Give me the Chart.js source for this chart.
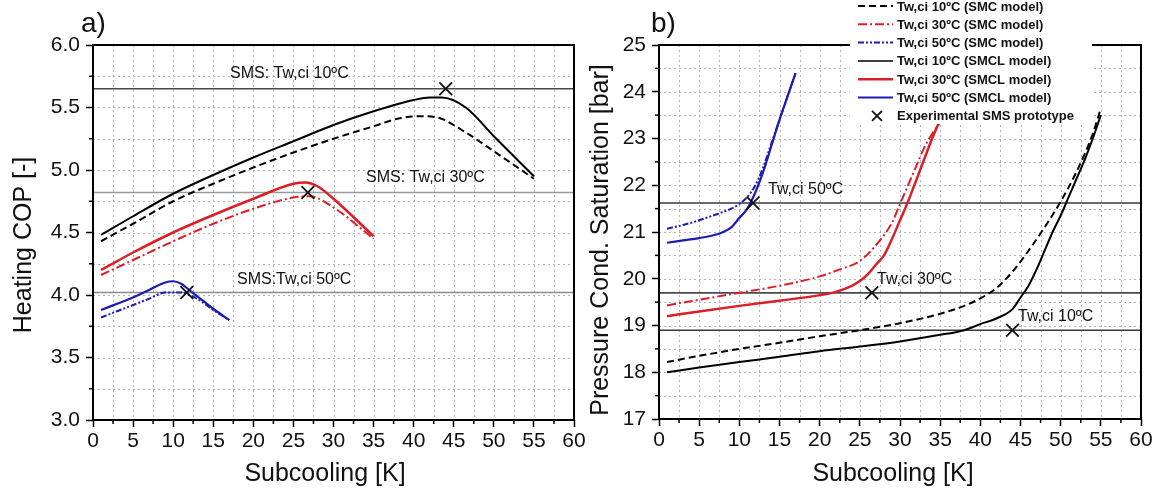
<!DOCTYPE html>
<html><head><meta charset="utf-8">
<script src="https://cdn.jsdelivr.net/npm/chart.js@4.4.0/dist/chart.umd.min.js"></script>
<style>
html,body{margin:0;padding:0;background:#fff;width:1158px;height:488px;overflow:hidden}
#c1{position:absolute;left:0;top:0;width:600px;height:488px}
#c2{position:absolute;left:560px;top:0;width:598px;height:488px}
</style></head><body>
<canvas id="c1" width="600" height="488"></canvas>
<canvas id="c2" width="598" height="488"></canvas>
<script>
// ---------- DATA ----------
const xTicks = [0,5,10,15,20,25,30,35,40,45,50,55,60];
const copTicks = [3.0,3.5,4.0,4.5,5.0,5.5,6.0];
const presTicks = [17,18,19,20,21,22,23,24,25];

// a) Heating COP
const cop10SmcX  = [1,5,10,15,20,25,30,35,38,41,43,46,50,55];
const cop10SmcY  = [4.43,4.57,4.75,4.89,5.02,5.14,5.25,5.35,5.41,5.43,5.42,5.32,5.15,4.93];
const cop30SmcX  = [1,5,10,15,20,25,27,30,35];
const cop30SmcY  = [4.16,4.28,4.43,4.57,4.69,4.78,4.79,4.70,4.45];
const cop50SmcX  = [1,3,5,7,9,11,12,13,15,17];
const cop50SmcY  = [3.82,3.87,3.92,3.97,4.02,4.02,4.00,3.97,3.88,3.80];
const cop10SmclX = [1,5,10,15,20,25,30,35,40,42,43.5,46.5,50,55];
const cop10SmclY = [4.48,4.63,4.81,4.96,5.10,5.23,5.36,5.47,5.56,5.58,5.58,5.50,5.27,4.95];
const cop30SmclX = [1,5,10,15,20,25,26.5,28,30,35];
const cop30SmclY = [4.20,4.34,4.50,4.64,4.77,4.89,4.90,4.87,4.77,4.47];
const cop50SmclX = [1,3,5,7,9,10,11,12,13,15,17];
const cop50SmclY = [3.88,3.93,3.98,4.04,4.10,4.11,4.09,4.04,3.99,3.89,3.80];
const expCopX = [44,26.8,11.7];
const expCopY = [5.65,4.82,4.02];
const smsCop  = [5.65,4.82,4.02];
const smsCopLabels = ['SMS: Tw,ci 10ºC','SMS: Tw,ci 30ºC','SMS:Tw,ci 50ºC'];

// b) Pressure cond. saturation
const p10SmcX  = [1,5,10,15,20,25,30,35,38,40,42,44,46,48,50,52,54,55];
const p10SmcY  = [18.22,18.35,18.5,18.63,18.77,18.9,19.05,19.25,19.42,19.58,19.8,20.15,20.6,21.1,21.65,22.3,23.1,23.65];
const p30SmcX  = [1,5,10,15,20,22.5,25,27.5,29,30,31,32,33,34,35];
const p30SmcY  = [19.43,19.55,19.7,19.85,20.05,20.2,20.38,20.82,21.2,21.6,22.0,22.4,22.8,23.1,23.35];
const p50SmcX  = [1,3,5,7,9,10,11,12,13,14,15,16,17];
const p50SmcY  = [21.07,21.15,21.25,21.37,21.5,21.6,21.75,22.0,22.4,22.9,23.4,23.9,24.4];
const p10SmclX = [1,5,10,15,20,25,30,35,38,40,42,44,45,46,47,48,49,50,51,52,53,54,55];
const p10SmclY = [18.0,18.1,18.22,18.33,18.45,18.55,18.66,18.8,18.9,19.03,19.15,19.35,19.6,19.85,20.2,20.6,21.0,21.35,21.75,22.15,22.55,23.0,23.5];
const p30SmclX = [1,5,10,15,20,22,24,25,26,27,28,29,30,31,32,33,34,35];
const p30SmclY = [19.2,19.3,19.42,19.53,19.65,19.72,19.85,19.95,20.1,20.3,20.5,20.85,21.25,21.65,22.1,22.55,23.0,23.4];
const p50SmclX = [1,3,5,7,8,9,10,11,12,13,14,15,16,17];
const p50SmclY = [20.77,20.82,20.87,20.94,21.0,21.1,21.3,21.5,21.85,22.3,22.85,23.4,23.9,24.4];
const expPX = [44,26.5,11.7];
const expPY = [18.9,19.7,21.62];
const smsP  = [18.9,19.7,21.62];
const smsPLabels = ['Tw,ci 10ºC','Tw,ci 30ºC','Tw,ci 50ºC'];

const legendLabels = ['Tw,ci 10ºC (SMC model)','Tw,ci 30ºC (SMC model)','Tw,ci 50ºC (SMC model)',
  'Tw,ci 10ºC (SMCL model)','Tw,ci 30ºC (SMCL model)','Tw,ci 50ºC (SMCL model)','Experimental SMS prototype'];

// ---------- STYLE ----------
const FONT = '"Liberation Sans", Arial, sans-serif';
const BLACK = '#000000', RED = '#dc1f26', BLUE = '#1c1cb4';
const DASH10 = [7,4], DASH30 = [9,3,2,3], DASH50 = [6,2,2,2,2,2];

function mkPts(xs, ys){ return xs.map((x,i)=>({x:x, y:ys[i]})); }
function curve(label, xs, ys, color, dash, width){
  return {label, data: mkPts(xs,ys), borderColor: color, backgroundColor: color, borderDash: dash,
    borderWidth: width, pointRadius: 0, fill: false, cubicInterpolationMode: 'monotone', order: 5};
}
function hline(v, color, width){
  return {label:'ref', data:[{x:0,y:v},{x:60,y:v}], borderColor: color, borderWidth: width, pointRadius: 0, fill:false, order: 10};
}
function markers(xs, ys){
  return {label:'exp', data: mkPts(xs,ys), showLine:false, pointStyle:'crossRot', pointRadius:9,
    borderColor:'#111', backgroundColor:'#111', borderWidth:1.8, order: 0};
}

function scaleCfg(yMin, yMax, yStep, yFmt, yWidth, xHeight){
  return {
    x: {type:'linear', min:0, max:60,
      afterBuildTicks: s => { s.ticks = xTicks.map(v=>({value:v})); },
      ticks:{font:{family:FONT,size:21}, color:'#111', padding:2, maxRotation:0, autoSkip:false},
      grid:{display:true, drawOnChartArea:false, drawTicks:true, tickLength:7, tickColor:'#000', tickWidth:1.5},
      border:{display:false},
      afterFit: s => { s.height = xHeight; }},
    y: {type:'linear', min:yMin, max:yMax,
      ticks:{stepSize:yStep, font:{family:FONT,size:21}, color:'#111', padding:6, callback: yFmt},
      grid:{display:true, drawOnChartArea:false, drawTicks:true, tickLength:7, tickColor:'#000', tickWidth:1.5},
      border:{display:false},
      afterFit: s => { s.width = yWidth; }}
  };
}

function decoPlugin(opts){
  return {
    id: 'deco'+opts.id,
    beforeDatasetsDraw(chart){
      const ctx = chart.ctx, a = chart.chartArea, xs = chart.scales.x, ys = chart.scales.y;
      ctx.save();
      ctx.strokeStyle = '#b5b5b5'; ctx.lineWidth = 1; ctx.setLineDash([2,3]);
      for (let v = 2.5; v < 60; v += 2.5){
        const p = Math.round(xs.getPixelForValue(v)) + 0.5;
        ctx.beginPath(); ctx.moveTo(p, a.top); ctx.lineTo(p, a.bottom); ctx.stroke();
      }
      for (let v = opts.yMin + opts.yMinor; v < opts.yMax - 1e-9; v += opts.yMinor){
        const p = Math.round(ys.getPixelForValue(v)) + 0.5;
        ctx.beginPath(); ctx.moveTo(a.left, p); ctx.lineTo(a.right, p); ctx.stroke();
      }
      ctx.restore();
    },
    afterDatasetsDraw(chart){
      const ctx = chart.ctx, a = chart.chartArea, xs = chart.scales.x, ys = chart.scales.y;
      ctx.save();
      // minor ticks
      ctx.strokeStyle = '#000'; ctx.lineWidth = 1.5;
      for (let v = 2.5; v < 60; v += 5){
        const p = xs.getPixelForValue(v);
        ctx.beginPath(); ctx.moveTo(p, a.bottom); ctx.lineTo(p, a.bottom + 4); ctx.stroke();
      }
      for (let v = opts.yMin + opts.yMinor; v < opts.yMax; v += 2*opts.yMinor){
        const p = ys.getPixelForValue(v);
        ctx.beginPath(); ctx.moveTo(a.left, p); ctx.lineTo(a.left - 4, p); ctx.stroke();
      }
      // frame
      ctx.lineWidth = 2;
      ctx.strokeRect(a.left, a.top, a.right - a.left, a.bottom - a.top);
      // annotation texts
      ctx.fillStyle = '#111'; ctx.font = '16px ' + FONT; ctx.textBaseline = 'middle'; ctx.textAlign = 'left';
      opts.notes.forEach(n => ctx.fillText(n.t, n.x - opts.offX, n.y));
      // axis titles
      ctx.font = '25px ' + FONT; ctx.textAlign = 'center'; ctx.textBaseline = 'alphabetic';
      ctx.fillText('Subcooling [K]', opts.xTitleX - opts.offX, 481);
      ctx.save();
      ctx.translate(opts.yTitleX - opts.offX, opts.yTitleY); ctx.rotate(-Math.PI/2);
      ctx.textBaseline = 'middle';
      ctx.fillText(opts.yTitle, 0, 0);
      ctx.restore();
      // panel label
      ctx.font = '28px ' + FONT; ctx.textAlign = 'left'; ctx.textBaseline = 'alphabetic';
      ctx.fillText(opts.panel, opts.panelX - opts.offX, 32);
      if (opts.legend) drawLegend(ctx, opts.offX);
      ctx.restore();
    }
  };
}

function drawLegend(ctx, offX){
  const x0 = 850 - offX;
  ctx.fillStyle = '#fff';
  ctx.fillRect(x0, 0, 242, 124);
  const items = [
    {c:BLACK, d:DASH10, w:2}, {c:RED, d:DASH30, w:2}, {c:BLUE, d:DASH50, w:2},
    {c:BLACK, d:[], w:1.5}, {c:RED, d:[], w:2.5}, {c:BLUE, d:[], w:2}, {m:true}
  ];
  ctx.font = 'bold 13px ' + FONT; ctx.textBaseline = 'middle'; ctx.textAlign = 'left';
  items.forEach((it, i) => {
    const y = 6 + i*18.3;
    if (it.m){
      ctx.strokeStyle = '#111'; ctx.lineWidth = 1.8; ctx.setLineDash([]);
      const cx = 877 - offX, r = 5;
      ctx.beginPath(); ctx.moveTo(cx-r, y-r); ctx.lineTo(cx+r, y+r); ctx.moveTo(cx+r, y-r); ctx.lineTo(cx-r, y+r); ctx.stroke();
    } else {
      ctx.strokeStyle = it.c; ctx.lineWidth = it.w; ctx.setLineDash(it.d);
      ctx.beginPath(); ctx.moveTo(858 - offX, y); ctx.lineTo(893 - offX, y); ctx.stroke();
    }
    ctx.setLineDash([]);
    ctx.fillStyle = '#111';
    ctx.fillText(legendLabels[i], 897 - offX, y + 1);
  });
}

const commonOpts = {responsive:false, animation:false, devicePixelRatio:1,
  plugins:{legend:{display:false}, tooltip:{enabled:false}}, events:[]};

// ---------- CHART a) ----------
new Chart(document.getElementById('c1'), {
  type:'line',
  data:{datasets:[
    markers(expCopX, expCopY),
    curve(legendLabels[0], cop10SmcX, cop10SmcY, BLACK, DASH10, 2),
    curve(legendLabels[1], cop30SmcX, cop30SmcY, RED, DASH30, 2),
    curve(legendLabels[2], cop50SmcX, cop50SmcY, BLUE, DASH50, 2),
    curve(legendLabels[3], cop10SmclX, cop10SmclY, BLACK, [], 2),
    curve(legendLabels[4], cop30SmclX, cop30SmclY, RED, [], 2.5),
    curve(legendLabels[5], cop50SmclX, cop50SmclY, BLUE, [], 2.2),
    hline(smsCop[0], '#4a4a4a', 1.6), hline(smsCop[1], '#9a9a9a', 1.4), hline(smsCop[2], '#8a8a8a', 1.4)
  ]},
  options: Object.assign({}, commonOpts, {
    layout:{padding:{left:0, top:45, right:26, bottom:0}},
    scales: scaleCfg(3, 6, 0.5, v => Number(v).toFixed(1), 93, 68)
  }),
  plugins:[decoPlugin({id:'a', offX:0, yMin:3, yMax:6, yMinor:0.25,
    notes:[{t:smsCopLabels[0], x:230, y:74},{t:smsCopLabels[1], x:366, y:178},{t:smsCopLabels[2], x:237, y:280}],
    xTitleX:325, yTitleX:24, yTitleY:245, yTitle:'Heating COP [-]', panel:'a)', panelX:81, legend:false})]
});

// ---------- CHART b) ----------
new Chart(document.getElementById('c2'), {
  type:'line',
  data:{datasets:[
    markers(expPX, expPY),
    curve(legendLabels[0], p10SmcX, p10SmcY, BLACK, DASH10, 2),
    curve(legendLabels[1], p30SmcX, p30SmcY, RED, DASH30, 2),
    curve(legendLabels[2], p50SmcX, p50SmcY, BLUE, DASH50, 2),
    curve(legendLabels[3], p10SmclX, p10SmclY, BLACK, [], 2),
    curve(legendLabels[4], p30SmclX, p30SmclY, RED, [], 2.5),
    curve(legendLabels[5], p50SmclX, p50SmclY, BLUE, [], 2.2),
    hline(smsP[0], '#3a3a3a', 1.6), hline(smsP[1], '#4a4a4a', 1.8), hline(smsP[2], '#3a3a3a', 1.6)
  ]},
  options: Object.assign({}, commonOpts, {
    layout:{padding:{left:0, top:45, right:17, bottom:0}},
    scales: scaleCfg(17, 25, 1, v => String(v), 99, 69)
  }),
  plugins:[decoPlugin({id:'b', offX:560, yMin:17, yMax:25, yMinor:0.5,
    notes:[{t:smsPLabels[0], x:1018, y:317},{t:smsPLabels[1], x:877, y:280},{t:smsPLabels[2], x:768, y:190}],
    xTitleX:893, yTitleX:601, yTitleY:240, yTitle:'Pressure Cond. Saturation [bar]', panel:'b)', panelX:651, legend:true})]
});
</script>
</body></html>
